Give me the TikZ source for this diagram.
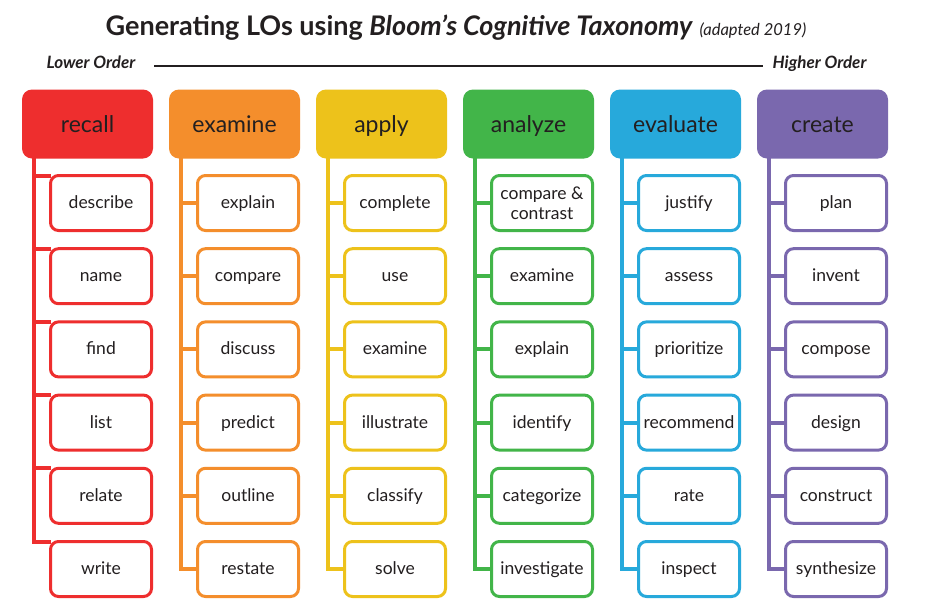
\documentclass[tikz,border=0pt]{standalone}
\usepackage{fontspec}
\setmainfont{Lato}
\usepackage{tikz}
\definecolor{txt}{HTML}{231F20}
\definecolor{cred}{HTML}{EE2E2E}
\definecolor{corange}{HTML}{F48E2C}
\definecolor{cyellow}{HTML}{EDC21B}
\definecolor{cgreen}{HTML}{42B549}
\definecolor{cblue}{HTML}{27A9DB}
\definecolor{cpurple}{HTML}{7A68AE}
\tikzstyle{levelbox}=[rounded corners=10pt, minimum width=131pt, minimum height=69pt, inner sep=0pt, outer sep=0pt, text=txt, text height=16pt, text depth=0pt, font=\fontsize{23}{27}\selectfont]
\tikzstyle{verbbox}=[draw, line width=3pt, fill=white, rounded corners=8pt, minimum width=101pt, minimum height=55pt, inner sep=0pt, outer sep=0pt, text=txt, text height=11pt, text depth=0pt, font=\fontsize{17.5}{20}\selectfont]
\tikzstyle{spine}=[line width=4pt]

\begin{document}
\begin{tikzpicture}[x=1pt, y=-1pt]
    \useasboundingbox[fill=white] (0,0) rectangle (927,603);

    % title and order line
    \node[anchor=base, text=txt] (title) at (456,35) {\fontsize{27}{32}\selectfont\bfseries Generating LOs using \textit{Bloom’s Cognitive Taxonomy} \mdseries\itshape\fontsize{16.5}{19}\selectfont (adapted 2019)};
    \node[anchor=base west, text=txt, font=\fontsize{17}{19}\selectfont\bfseries\itshape] (lower) at (43,68) {Lower Order};
    \node[anchor=base east, text=txt, font=\fontsize{17}{19}\selectfont\bfseries\itshape] (higher) at (870,68) {Higher Order};
    \draw[line width=1.3pt, txt] (154,66) -- (763,66);

    % recall
    \node[levelbox, fill=cred] (r) at (87.5,124) {recall};
    \coordinate (r0) at (34,158);
    \foreach \t [count=\i] in {describe,name,find,list,relate,write}
      \node[verbbox, draw=cred] (r\i) at (101,{203+73.2*(\i-1)}) {\t};
    \foreach \i in {1,...,6} \draw[spine, cred] (r0) |- (r\i.north west);

    % examine
    \node[levelbox, fill=corange] (e) at (234.5,124) {examine};
    \coordinate (e0) at (181,158);
    \foreach \t [count=\i] in {explain,compare,discuss,predict,outline,restate}
      \node[verbbox, draw=corange] (e\i) at (248,{203+73.2*(\i-1)}) {\t};
    \foreach \i in {1,...,6} \draw[spine, corange] (e0) |- (e\i.west);

    % apply
    \node[levelbox, fill=cyellow] (a) at (381.5,124) {apply};
    \coordinate (a0) at (328,158);
    \foreach \t [count=\i] in {complete,use,examine,illustrate,classify,solve}
      \node[verbbox, draw=cyellow] (a\i) at (395,{203+73.2*(\i-1)}) {\t};
    \foreach \i in {1,...,6} \draw[spine, cyellow] (a0) |- (a\i.west);

    % analyze
    \node[levelbox, fill=cgreen] (n) at (528.5,124) {analyze};
    \coordinate (n0) at (475,158);
    \node[verbbox, draw=cgreen, text height=, text depth=, align=center] (n1) at (542,203) {compare \&\\contrast};
    \foreach \t [count=\i from 2] in {examine,explain,identify,categorize,investigate}
      \node[verbbox, draw=cgreen] (n\i) at (542,{203+73.2*(\i-1)}) {\t};
    \foreach \i in {1,...,6} \draw[spine, cgreen] (n0) |- (n\i.west);

    % evaluate
    \node[levelbox, fill=cblue] (v) at (675.5,124) {evaluate};
    \coordinate (v0) at (622,158);
    \foreach \t [count=\i] in {justify,assess,prioritize,recommend,rate,inspect}
      \node[verbbox, draw=cblue] (v\i) at (689,{203+73.2*(\i-1)}) {\t};
    \foreach \i in {1,...,6} \draw[spine, cblue] (v0) |- (v\i.west);

    % create
    \node[levelbox, fill=cpurple] (c) at (822.5,124) {create};
    \coordinate (c0) at (769,158);
    \foreach \t [count=\i] in {plan,invent,compose,design,construct,synthesize}
      \node[verbbox, draw=cpurple] (c\i) at (836,{203+73.2*(\i-1)}) {\t};
    \foreach \i in {1,...,6} \draw[spine, cpurple] (c0) |- (c\i.west);

  \end{tikzpicture}
\end{document}
